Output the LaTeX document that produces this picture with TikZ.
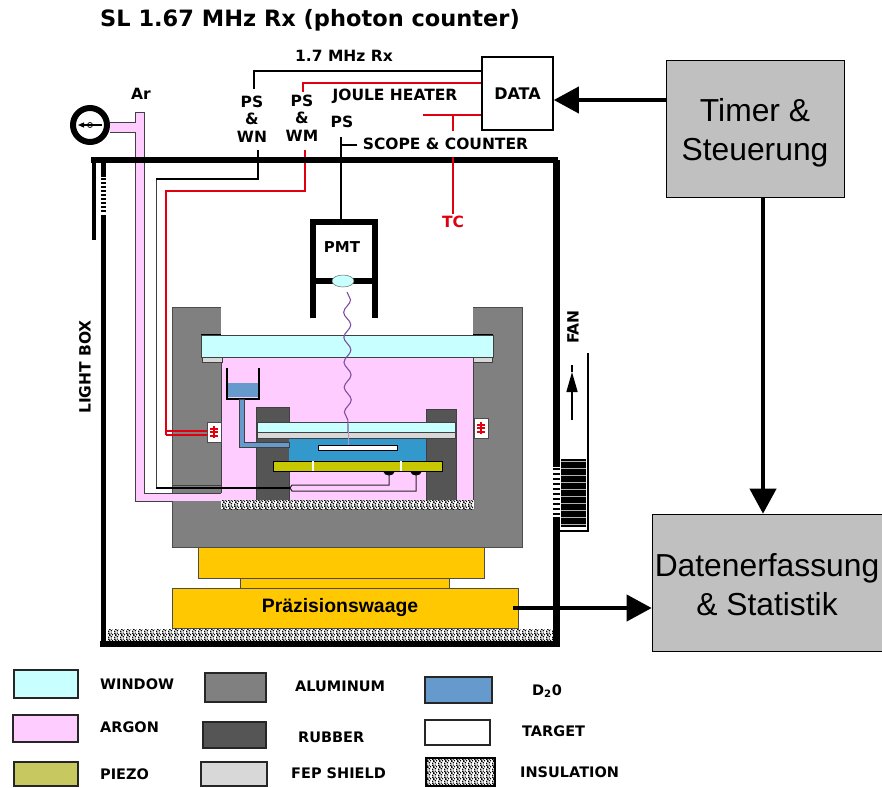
\documentclass[tikz,border=0pt]{standalone}
\usepackage{fontspec}
\setmainfont{DejaVu Sans}
\newfontfamily\boxfont{Liberation Sans}
\usetikzlibrary{arrows.meta,patterns,decorations.pathmorphing}
\definecolor{windowc}{HTML}{C8FFFF}
\definecolor{argonc}{HTML}{FFCCFF}
\definecolor{alumc}{HTML}{808080}
\definecolor{rubberc}{HTML}{555555}
\definecolor{fepc}{HTML}{D8D8D8}
\definecolor{dwater}{HTML}{3399CC}
\definecolor{dwaterb}{HTML}{6699CC}
\definecolor{piezoc}{HTML}{C8C800}
\definecolor{piezob}{HTML}{C8C860}
\definecolor{waagec}{HTML}{FFC800}
\definecolor{boxc}{HTML}{C0C0C0}
\definecolor{redw}{HTML}{E00010}
\definecolor{photon}{HTML}{8050A0}
\pgfdeclarepatternformonly{insulgrain}{\pgfpointorigin}{\pgfqpoint{6pt}{6pt}}{\pgfqpoint{6pt}{6pt}}{
  \pgfpathrectangle{\pgfqpoint{0pt}{0pt}}{\pgfqpoint{1.6pt}{1.6pt}}
  \pgfpathrectangle{\pgfqpoint{3pt}{0.6pt}}{\pgfqpoint{1.8pt}{1.4pt}}
  \pgfpathrectangle{\pgfqpoint{1.4pt}{2.4pt}}{\pgfqpoint{1.6pt}{1.6pt}}
  \pgfpathrectangle{\pgfqpoint{4.4pt}{3pt}}{\pgfqpoint{1.6pt}{1.6pt}}
  \pgfpathrectangle{\pgfqpoint{0.2pt}{4.4pt}}{\pgfqpoint{1.6pt}{1.6pt}}
  \pgfpathrectangle{\pgfqpoint{3pt}{4.8pt}}{\pgfqpoint{1.4pt}{1.2pt}}
  \pgfusepath{fill}
}
\begin{document}
\begin{tikzpicture}[x=1pt,y=-1pt]
    \tikzstyle{lbl}=[inner sep=0pt,font=\bfseries\fontsize{15.5}{17.5}\selectfont]
    \tikzstyle{lgd}=[inner sep=0pt,anchor=west,font=\bfseries\fontsize{14.5}{17}\selectfont]
    \tikzstyle{ctl}=[draw=black,line width=0.6pt,fill=boxc,align=center,inner sep=0pt,
      font=\boxfont\fontsize{31.8}{39}\selectfont]
    \tikzstyle{flow}=[line width=4pt,-{Triangle[length=25pt,width=26pt]}]
    \tikzstyle{wire}=[line width=1.4pt]
    \tikzstyle{redwire}=[wire,draw=redw]
    \tikzstyle{wall}=[line width=0.7pt,draw=black!75]
    \tikzstyle{thinline}=[line width=1pt,draw=black!85]
    \tikzstyle{insul}=[pattern=insulgrain,pattern color=black]
    \useasboundingbox (0,0) rectangle (882,787);
    \fill[alumc,draw=black!70,line width=0.5pt] (172,307) rectangle (522,547);
    \fill[white] (221,300) rectangle (473,335);
    \fill[argonc,wall] (221,357) rectangle (473,500);
    \fill[argonc] (135,493) rectangle (230,501);
    \fill[argonc] (135,112) rectangle (144,501);
    \fill[argonc] (110,122) rectangle (135,132);
    \draw[wall] (110,122) -- (135,122) -- (135,112) -- (144,112) -- (144,493) -- (221,493);
    \draw[wall] (110,132) -- (135,132) -- (135,501) -- (172,501);
    \draw[wall] (172,485) -- (221,485) -- (221,493);
    \fill[black] (201,334) rectangle (221,337);
    \fill[black] (473,334) rectangle (493,337);
    \fill[fepc,wall] (202,357) rectangle (222,362);
    \fill[fepc,wall] (473,357) rectangle (492,362);
    \fill[windowc,wall] (201,335) rectangle (493,357);
    \fill[rubberc,wall] (256,407) rectangle (289,500);
    \fill[rubberc,wall] (426,409) rectangle (456,500);
    \fill[dwater] (289,438) rectangle (426,461);
    \fill[windowc,wall] (257,422) rectangle (455,432);
    \fill[fepc,wall] (257,432) rectangle (455,438);
    \fill[white,draw=black,line width=0.7pt] (318,445) rectangle (397,450);
    \fill[dwaterb] (227,383) rectangle (259,397);
    \draw[line width=2pt] (227,368) -- (227,399) -- (259,399) -- (259,368);
    \fill[dwaterb,wall] (239,399) -- (239,447) -- (289,447) -- (289,442) -- (244,442) -- (244,399) -- cycle;
    \fill[piezoc,draw=black,line width=0.8pt] (273,461) rectangle (442,471);
    \draw[white,line width=1.2pt] (313,461) -- (313,471);
    \draw[white,line width=1.2pt] (401,461) -- (401,471);
    \fill[black] (383,471) .. controls (384,477) and (394,477) .. (395,471) -- cycle;
    \fill[black] (410,471) .. controls (411,477) and (421,477) .. (422,471) -- cycle;
    \draw[thinline] (389,474) -- (389,485) -- (292,485) -- (290,488);
    \draw[thinline] (416,474) -- (416,491) -- (292,491) -- (290,488);
    \draw[wall] (156,179) -- (156,488);
    \draw[line width=1.4pt] (156,488) -- (290,488);
    \fill[white] (221,500) rectangle (474,509);
    \fill[insul] (221,500) rectangle (474,509);
    \foreach \fx/\fy in {207/422,474/418} {
      \fill[white,draw=black!70,line width=0.7pt] (\fx,\fy) rectangle ++(14,20);
      \draw[redw,line width=1.2pt] (\fx+7,\fy+4) -- (\fx+7,\fy+16);
      \draw[redw,line width=2pt] (\fx+3,\fy+6.5) -- (\fx+11,\fy+6.5);
      \draw[redw,line width=2pt] (\fx+3,\fy+10) -- (\fx+11,\fy+10);
      \draw[redw,line width=2pt] (\fx+3,\fy+13.5) -- (\fx+11,\fy+13.5);
    }
    \draw[redw,line width=1.3pt] (166,431) -- (207,431);
    \draw[redw,line width=1.3pt] (166,435) -- (207,435);
    \draw[redwire,line width=2.2pt] (305,150) -- (305,191) -- (166,191) -- (166,435);
    \draw[wire,line width=1.8pt] (258,150) -- (258,179) -- (156,179);
    \draw[line width=6pt] (91,160) -- (558,160);
    \draw[line width=4pt] (94,160) -- (94,240);
    \draw[line width=5pt] (103.5,160) -- (103.5,177);
    \foreach \dy in {179,183,...,211} {
      \draw[line width=2.2pt] (101,\dy) -- (106,\dy);
    }
    \draw[line width=5pt] (103.5,215) -- (103.5,642);
    \draw[line width=7pt] (556.5,160) -- (556.5,467);
    \foreach \dy in {469,474,...,514} {
      \draw[line width=2.6pt] (553,\dy) -- (560,\dy);
    }
    \draw[line width=7pt] (556.5,517) -- (556.5,646);
    \fill[black] (561,459) rectangle (586,527);
    \foreach \dy in {461,468,...,524} {
      \draw[white!70!black,line width=0.8pt] (561,\dy) -- (586,\dy);
    }
    \draw[line width=1.6pt] (588,353) -- (588,531) -- (560,531);
    \draw[line width=1.6pt,-{Triangle[length=20pt,width=11pt]}] (572,420) -- (572,372);
    \draw[line width=1.4pt] (572,372) -- (572,365);
    \fill[white] (107,629) rectangle (553,641);
    \fill[insul] (107,629) rectangle (553,641);
    \fill[black] (100,641) rectangle (560,647);
    \fill[waagec,draw=black!70,line width=0.6pt] (198,547) rectangle (484,578);
    \fill[waagec,draw=black!70,line width=0.6pt] (240,578) rectangle (449,588);
    \node[draw=black!70,line width=0.6pt,fill=waagec,minimum width=346pt,minimum height=40pt,inner sep=0pt,
      font=\boxfont\bfseries\fontsize{19.4}{22}\selectfont] (waage) at (345,608) {Präzisionswaage\hspace*{10pt}};
    \draw[line width=1.8pt] (341,137) -- (341,219);
    \draw[line width=1.6pt] (341,145) -- (357,145);
    \draw[line width=6pt] (312.5,318) -- (312.5,222) -- (374.5,222) -- (374.5,318);
    \draw[line width=6pt] (312.5,281) -- (374.5,281);
    \fill[windowc,draw=black!60,line width=0.5pt] (343,281) ellipse (11 and 6);
    \draw[photon,line width=1.1pt,decorate,decoration={snake,segment length=25pt,amplitude=3.5pt}]
      (347,292) -- (348,432);
    \draw[photon!60,line width=0.7pt] (348,432) -- (348,445);
    \draw[line width=6pt,fill=white] (90,125) circle (17);
    \draw[line width=1.2pt,-{Triangle[length=6pt,width=5pt]}] (102,125) -- (78,125);
    \draw[line width=0.8pt] (90,125) circle (2.5);
    \node[draw=black,line width=1.6pt,fill=white,minimum width=71pt,minimum height=73pt,inner sep=0pt,
      font=\bfseries\fontsize{16}{18}\selectfont] (data) at (517.5,93.5) {DATA};
    \node[ctl,minimum width=178pt,minimum height=137pt] (timer) at (755,128.5) {\rule{0pt}{32pt}Timer \&\\Steuerung};
    \node[ctl,minimum width=230pt,minimum height=137pt] (stats) at (767,582.5) {\rule{0pt}{27pt}Datenerfassung\\\& Statistik};
    \node[lbl,font=\bfseries\fontsize{22.5}{26}\selectfont] (title) at (310,20) {SL 1.67 MHz Rx (photon counter)};
    \node[lbl] (rxlabel) at (344,56) {1.7 MHz Rx};
    \node[lbl] (arlabel) at (141,94) {Ar};
    \node[lbl,align=center,inner ysep=7pt] (pswn) at (252,119) {PS\\\&\\WN};
    \node[lbl,align=center,inner ysep=3pt] (pswm) at (302,118) {PS\\\&\\WM};
    \node[lbl] (jheater) at (395,96) {JOULE HEATER};
    \node[lbl] (pslabel) at (342,122) {PS};
    \node[lbl] (scope) at (445.5,144) {SCOPE \& COUNTER};
    \node[lbl,text=redw,inner ysep=2pt] (tclabel) at (453,222) {TC};
    \node[lbl,font=\bfseries\fontsize{15}{17}\selectfont] (pmtlabel) at (342,247) {PMT};
    \node[lbl,rotate=90] (boxlabel) at (85,367) {LIGHT BOX};
    \node[lbl,rotate=90] (fanlabel) at (573,327) {FAN};
    \draw[wire] (data.west |- 0,71) -| ([xshift=2pt]pswn.north);
    \draw[redwire] (data.west |- 0,83) -| ([xshift=1pt]pswm.north);
    \coordinate (heaterend) at (423,115);
    \coordinate (tcjoin) at (453,115);
    \coordinate (tcstop) at (453,131);
    \draw[redwire] (data.west |- heaterend) -- (heaterend);
    \draw[redwire] (tcjoin) -- (tcstop);
    \draw[redwire] (453,157) -- (tclabel.north);
    \draw[flow] (timer.west |- 0,100) -- (data.east |- 0,100);
    \draw[flow] ([xshift=-4pt]stats.north |- timer.south) -- ([xshift=-4pt]stats.north);
    \draw[flow] ([xshift=-5pt]waage.east) -- (waage.east -| stats.west);
    \foreach \xa/\ya/\xb/\yb/\col/\tx/\ty/\txt in {
      14/670/78/698/windowc/100/684/WINDOW,
      13/715/78/742/argonc/100/727/ARGON,
      14/762/78/786/piezob/100/774/PIEZO,
      205/673/266/702/alumc/295/686/ALUMINUM,
      203/722/266/748/rubberc/298/737/RUBBER,
      201/762/267/786/fepc/291/773/FEP SHIELD,
      425/677/492/703/dwaterb/532/691/D\textsubscript{2}0,
      425/720/490/745/white/522/731/TARGET} {
      \fill[\col,draw=black!85,line width=1.6pt] (\xa,\ya) rectangle (\xb,\yb);
      \node[lgd] (lgd\xa\ya) at (\tx,\ty) {\txt};
    }
    \fill[white] (426,758) rectangle (495,786);
    \fill[insul,draw=black,line width=1.2pt] (426,758) rectangle (495,786);
    \node[lgd] (lgdinsul) at (520,772) {INSULATION};
\end{tikzpicture}
\end{document}
